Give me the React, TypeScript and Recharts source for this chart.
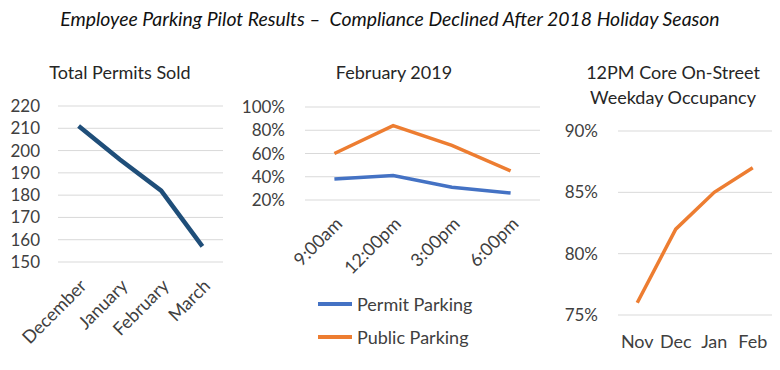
import { LineChart, Line, XAxis, YAxis, CartesianGrid } from "recharts";

const permitMonths = ["December", "January", "February", "March"];
const permitsSold = [211, 196, 182, 157];
const permitTicks = [150, 160, 170, 180, 190, 200, 210, 220];

const hours = ["9:00am", "12:00pm", "3:00pm", "6:00pm"];
const permitParking = [0.38, 0.41, 0.31, 0.26];
const publicParking = [0.6, 0.84, 0.67, 0.45];
const shareTicks = [0.2, 0.4, 0.6, 0.8, 1.0];

const occMonths = ["Nov", "Dec", "Jan", "Feb"];
const occupancy = [0.76, 0.82, 0.85, 0.87];
const occTicks = [0.75, 0.8, 0.85, 0.9];

const font = "Lato, 'Noto Sans', sans-serif";
const textColor = "#404040";
const gridColor = "#d9d9d9";

const permitData = permitMonths.map((m, i) => ({ month: m, sold: permitsSold[i] }));
const hourData = hours.map((h, i) => ({ hour: h, permit: permitParking[i], public: publicParking[i] }));
const occData = occMonths.map((m, i) => ({ month: m, occ: occupancy[i] }));

const legendItems = [
  { name: "Permit Parking", color: "#4472C4" },
  { name: "Public Parking", color: "#ED7D31" },
];

const pct = (v: number) => `${Math.round(v * 100)}%`;
const tickStyle = { fontSize: 17, fill: textColor, fontFamily: font };
const xTickStyle = { fontSize: 18, fill: textColor, fontFamily: font };

const titleStyle = (left: number, top: number, width: number): React.CSSProperties => ({
  position: "absolute",
  left,
  top,
  width,
  textAlign: "center",
  fontSize: 18,
  lineHeight: "25px",
  color: "#262626",
  fontFamily: font,
});

export default function App() {
  return (
    <div style={{ position: "absolute", left: 0, top: 0, width: 780, height: 370, background: "#fff", fontFamily: font, overflow: "hidden" }}>
      <div style={{ position: "absolute", left: 0, top: 7, width: 780, textAlign: "center", fontStyle: "italic", fontSize: 19.4, color: "#111", whiteSpace: "pre" }}>
        {"Employee Parking Pilot Results –  Compliance Declined After 2018 Holiday Season"}
      </div>

      {/* left: permits sold */}
      <div style={titleStyle(20, 60, 200)}>Total Permits Sold</div>
      <div style={{ position: "absolute", left: 0, top: 90 }}>
        <LineChart width={240} height={272} data={permitData} margin={{ top: 16, right: 17, left: 8, bottom: 0 }}>
          <CartesianGrid vertical={false} stroke={gridColor} />
          <XAxis dataKey="month" axisLine={false} tickLine={false} interval={0} angle={-45} textAnchor="end" height={100} tickMargin={10} padding={{ left: 20.6, right: 20.6 }} tick={xTickStyle} />
          <YAxis domain={[150, 220]} ticks={permitTicks} interval={0} axisLine={false} tickLine={false} width={50} tickMargin={12} tick={tickStyle} />
          <Line dataKey="sold" stroke="#1F4E79" strokeWidth={4.5} dot={false} isAnimationActive={false} />
        </LineChart>
      </div>

      {/* middle: February 2019 */}
      <div style={titleStyle(294, 60, 200)}>February 2019</div>
      <div style={{ position: "absolute", left: 240, top: 90 }}>
        <LineChart width={308} height={200} data={hourData} margin={{ top: 17, right: 8, left: 7, bottom: 0 }}>
          <CartesianGrid vertical={false} stroke={gridColor} />
          <XAxis dataKey="hour" axisLine={false} tickLine={false} interval={0} angle={-45} textAnchor="end" height={90} tickMargin={10} padding={{ left: 29.4, right: 29.4 }} tick={xTickStyle} />
          <YAxis domain={[0.2, 1]} ticks={shareTicks} interval={0} tickFormatter={pct} axisLine={false} tickLine={false} width={58} tickMargin={14} tick={tickStyle} />
          <Line dataKey="permit" name="Permit Parking" stroke="#4472C4" strokeWidth={3.5} dot={false} isAnimationActive={false} />
          <Line dataKey="public" name="Public Parking" stroke="#ED7D31" strokeWidth={3.5} dot={false} isAnimationActive={false} />
        </LineChart>
      </div>
      <div style={{ position: "absolute", left: 318, top: 287 }}>
        {legendItems.map((it) => (
          <div key={it.name} style={{ display: "flex", alignItems: "center", height: 33, fontSize: 18, color: textColor }}>
            <div style={{ width: 34, height: 4, background: it.color, marginRight: 5 }} />
            <span>{it.name}</span>
          </div>
        ))}
      </div>

      {/* right: occupancy */}
      <div style={titleStyle(563, 60, 220)}>
        12PM Core On-Street
        <br />
        Weekday Occupancy
      </div>
      <div style={{ position: "absolute", left: 540, top: 95 }}>
        <LineChart width={240} height={260} data={occData} margin={{ top: 36, right: 8, left: 8, bottom: 0 }}>
          <CartesianGrid vertical={false} stroke={gridColor} />
          <XAxis dataKey="month" axisLine={false} tickLine={false} interval={0} height={40} tickMargin={14} padding={{ left: 19.25, right: 19.25 }} tick={xTickStyle} />
          <YAxis domain={[0.75, 0.9]} ticks={occTicks} interval={0} tickFormatter={pct} axisLine={false} tickLine={false} width={70} tickMargin={14} tick={tickStyle} />
          <Line dataKey="occ" stroke="#ED7D31" strokeWidth={3.5} dot={false} isAnimationActive={false} />
        </LineChart>
      </div>
    </div>
  );
}
